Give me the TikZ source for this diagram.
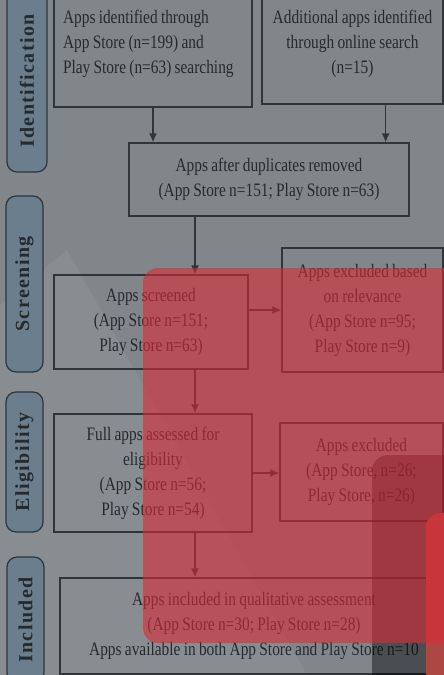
\documentclass[tikz,border=0pt]{standalone}
\usepackage{fontspec}
\setmainfont{Liberation Serif}[FakeStretch=0.81,WordSpace=0.85]
\newfontfamily\stagefont{Liberation Serif}[LetterSpace=7]
\usetikzlibrary{positioning,calc,arrows.meta}

\definecolor{bggrey}{RGB}{128,134,138}
\definecolor{boxline}{RGB}{48,53,57}
\definecolor{txtcol}{RGB}{38,42,46}
\definecolor{stagefill}{RGB}{106,126,141}
\definecolor{overlayred}{RGB}{219,42,53}
\definecolor{stripred}{RGB}{173,71,68}

\tikzset{
  box/.style={draw=boxline,line width=0.65pt,text=txtcol,inner sep=0pt,align=center,font=\fontsize{9.5}{12.5}\selectfont},
  stage/.style={draw=boxline,line width=0.6pt,fill=stagefill,rounded corners=5pt,rotate=90,inner sep=0pt,text=txtcol,font=\stagefont\bfseries\fontsize{10}{11}\selectfont},
  arr/.style={draw=boxline,line width=0.65pt,-{Latex[length=4.5pt,width=4pt]}},
}

\begin{document}
\begin{tikzpicture}[x=0.5pt,y=-0.5pt]
        \clip (0,0) rectangle (444,675);
        \fill[bggrey] (0,0) rectangle (444,675);
        \fill[white,opacity=0.06] (67,250) -- (307,675) -- (0,675) -- (0,305) -- cycle;
        % stages
        \node[stage,minimum width=91pt,minimum height=20pt] (identification) at (27,81) {Identification};
        \node[stage,minimum width=88pt,minimum height=18.5pt] (screening) at (24.5,284) {Screening};
        \node[stage,minimum width=70pt,minimum height=18.5pt] (eligibility) at (24.5,462) {Eligibility};
        \node[stage,minimum width=63pt,minimum height=18.5pt] (inclusion) at (25.5,620) {Included};
        % boxes
        \node[box,text width=90pt,inner xsep=4.5pt,minimum height=63.5pt,align=flush left] (found) at (153,43.5) {Apps identified through\\App Store (n=199) and\\Play Store (n=63) searching};
        \node[box,minimum width=90.5pt,minimum height=60pt] (extra) at (352.5,44) {Additional apps identified\\through online search\\(n=15)};
        \node[box,minimum width=140pt,minimum height=36.5pt] (dedup) at (269,179.5) {Apps after duplicates removed\\(App Store n=151; Play Store n=63)};
        \node[box,minimum width=97pt,minimum height=47pt] (screened) at (151,322) {Apps screened\\(App Store n=151;\\Play Store n=63)};
        \node[box,minimum width=80.5pt,minimum height=62pt] (irrelevant) at (362.5,310) {Apps excluded based\\on relevance\\(App Store n=95;\\Play Store n=9)};
        \node[box,minimum width=99pt,minimum height=59pt] (full) at (153,473) {Full apps assessed for\\eligibility\\(App Store n=56;\\Play Store n=54)};
        \node[box,minimum width=81.5pt,minimum height=49pt] (excluded) at (361.5,472) {Apps excluded\\(App Store, n=26;\\Play Store, n=26)};
        \node[box,minimum width=194pt,minimum height=48pt] (included) at (254,626) {Apps included in qualitative assessment\\(App Store n=30; Play Store n=28)\\Apps available in both App Store and Play Store n=10};
        % arrows
        \coordinate (spine) at (195,0);
        \coordinate (mergeB) at ([xshift=-12pt]dedup.north east);
        \draw[arr] (found.south) -- (found.south |- dedup.north);
        \draw[arr] (extra.south -| mergeB) -- (mergeB);
        \draw[arr] (dedup.south -| spine) -- (screened.north -| spine);
        \draw[arr] (screened.east |- irrelevant.west) -- (irrelevant.west);
        \draw[arr] (screened.south -| spine) -- (full.north -| spine);
        \draw[arr] (full.east) -- (full.east -| excluded.west);
        \draw[arr] (full.south -| spine) -- (included.north -| spine);
        % overlays
        \fill[black,opacity=0.41,rounded corners=8pt] (372,455) rectangle (480,700);
        \fill[stripred,rounded corners=7pt] (426,513) rectangle (480,700);
        \fill[overlayred,opacity=0.59,rounded corners=7.5pt] (143,268) rectangle (480,643);
\end{tikzpicture}
\end{document}
